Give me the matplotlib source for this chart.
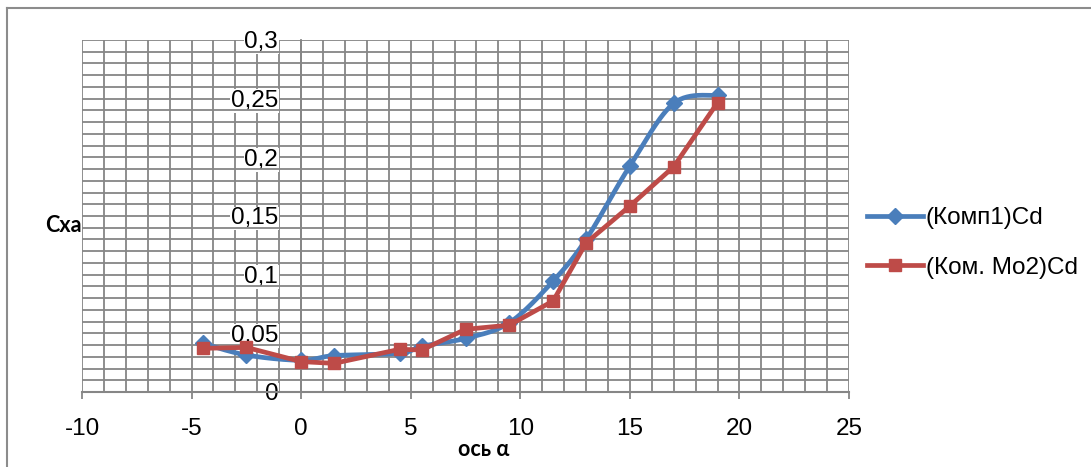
import numpy as np
import matplotlib
matplotlib.use('Agg')
import matplotlib.pyplot as plt
from matplotlib.ticker import MultipleLocator
from matplotlib.lines import Line2D

# угол атаки и коэффициент сопротивления
alpha = [-4.5, -2.5, 0, 1.5, 4.5, 5.5, 7.5, 9.5, 11.5, 13, 15, 17, 19]
cd_komp1 = [0.0415, 0.0315, 0.027, 0.031, 0.033, 0.039, 0.0457, 0.059, 0.0946, 0.130, 0.1926, 0.246, 0.253]
cd_mo2 = [0.0372, 0.038, 0.0259, 0.0244, 0.0364, 0.0358, 0.0534, 0.057, 0.0776, 0.127, 0.1585, 0.192, 0.2466]

x_ticks = [-10, -5, 0, 5, 10, 15, 20, 25]
y_ticks = [0, 0.05, 0.1, 0.15, 0.2, 0.25, 0.3]
y_tick_labels = ['0', '0,05', '0,1', '0,15', '0,2', '0,25', '0,3']

BLUE = '#4A7EBB'
RED = '#BE4B48'
GRID = '#868686'


def smooth(x, y, n=30):
    # сглаживание как в Excel (сплайн Катмулла-Рома)
    x = np.asarray(x, float)
    y = np.asarray(y, float)
    px = np.concatenate([[x[0]], x, [x[-1]]])
    py = np.concatenate([[y[0]], y, [y[-1]]])
    xs, ys = [], []
    t = np.linspace(0, 1, n)
    for i in range(1, len(px) - 2):
        for p, out in ((px, xs), (py, ys)):
            p0, p1, p2, p3 = p[i - 1], p[i], p[i + 1], p[i + 2]
            out.extend(0.5 * (2 * p1 + (-p0 + p2) * t
                              + (2 * p0 - 5 * p1 + 4 * p2 - p3) * t ** 2
                              + (-p0 + 3 * p1 - 3 * p2 + p3) * t ** 3))
    return xs, ys


plt.rcParams['font.family'] = ['Liberation Sans', 'DejaVu Sans']
plt.rcParams['axes.unicode_minus'] = False

fig = plt.figure(figsize=(10.91, 4.67), dpi=100)
ax = fig.add_axes([82 / 1091, 75 / 467, 767 / 1091, 352 / 467])

sx, sy = smooth(alpha, cd_komp1)
ax.plot(sx, sy, color=BLUE, lw=3.4, zorder=4)
ax.plot(alpha, cd_komp1, ls='none', marker='D', ms=8, color=BLUE, zorder=4)
ax.plot(alpha, cd_mo2, color=RED, lw=3.4, marker='s', ms=9, zorder=5)

ax.set_xlim(-10, 25)
ax.set_ylim(0, 0.3)
ax.xaxis.set_minor_locator(MultipleLocator(1))
ax.yaxis.set_minor_locator(MultipleLocator(0.01))
ax.set_xticks(x_ticks)
ax.set_yticks(y_ticks, y_tick_labels)
ax.grid(which='both', color=GRID, lw=1.3)

for s in ['top', 'right']:
    ax.spines[s].set_visible(False)
ax.spines['left'].set_position(('data', 0))
ax.spines['left'].set_color(GRID)
ax.spines['left'].set_linewidth(1.3)
ax.spines['bottom'].set_color(GRID)
ax.spines['bottom'].set_linewidth(1.5)

ax.tick_params(axis='x', which='major', direction='out', length=5, width=1.3,
               color=GRID, labelsize=17.5, pad=14)
ax.tick_params(axis='y', which='major', length=0, labelsize=17.5, pad=16.5)
ax.tick_params(which='minor', length=0)
for lbl in ax.get_yticklabels():
    lbl.set_bbox(dict(facecolor='white', edgecolor='none', pad=0.5))

fig.text(82 / 1091, 1 - 226 / 467, 'Cxa', ha='right', va='center',
         fontsize=15.5, fontweight='bold', family='Lato')
fig.text(484 / 1091, 1 - 450 / 467, 'ось α', ha='center', va='center',
         fontsize=15.5, fontweight='bold', family='Lato')

handles = [Line2D([], [], color=BLUE, lw=3.4, marker='D', ms=8),
           Line2D([], [], color=RED, lw=3.4, marker='s', ms=9)]
fig.legend(handles, ['(Комп1)Cd', '(Ком. Mo2)Cd'], loc='upper left',
           bbox_to_anchor=(867 / 1091, 1 - 207 / 467), frameon=False,
           fontsize=17.5, handlelength=2.3, handletextpad=0.12,
           labelspacing=1.15, borderaxespad=0, borderpad=0)

# рамка области диаграммы
fig.add_artist(Line2D([7 / 1091, 7 / 1091], [0, 1 - 8 / 467], color='#8c8c8c', lw=1.5))
fig.add_artist(Line2D([7 / 1091, 1], [1 - 8 / 467, 1 - 8 / 467], color='#8c8c8c', lw=1.5))

fig.savefig('out.png', dpi=100)
